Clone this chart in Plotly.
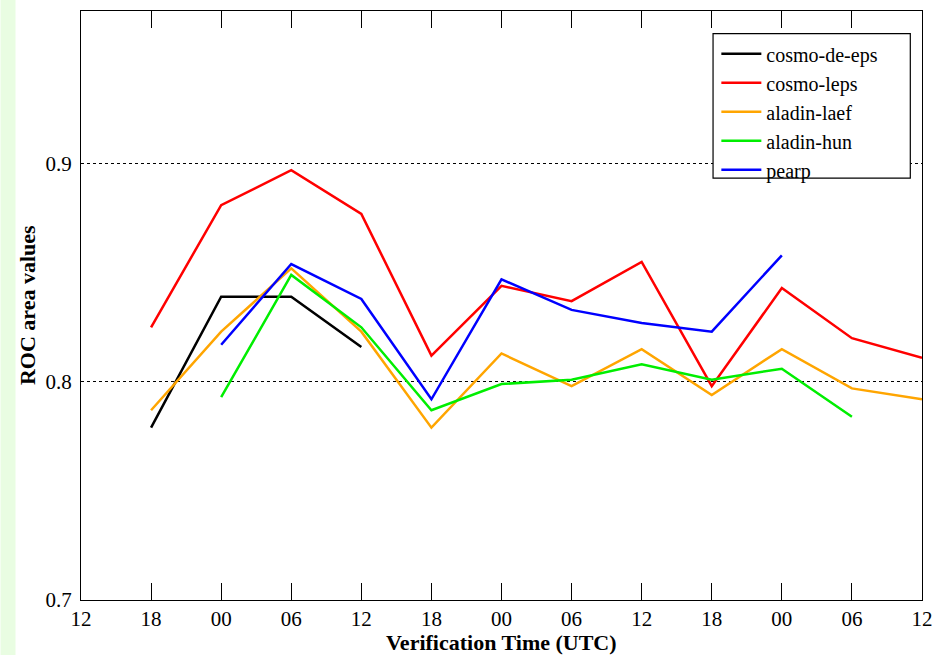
import plotly.graph_objects as go

x_ticklabels = ["12", "18", "00", "06", "12", "18", "00", "06", "12", "18", "00", "06", "12"]
x_positions = list(range(13))

series_names = ["cosmo-de-eps", "cosmo-leps", "aladin-laef", "aladin-hun", "pearp"]
series_colors = ["#000000", "#ff0000", "#ffa500", "#00ee00", "#0000ff"]

cosmo_de_eps_x = [1, 2, 3, 4]
cosmo_de_eps_y = [0.779, 0.839, 0.839, 0.816]

cosmo_leps_x = [1, 2, 3, 4, 5, 6, 7, 8, 9, 10, 11, 12]
cosmo_leps_y = [0.825, 0.881, 0.897, 0.877, 0.812, 0.844, 0.837, 0.855, 0.798, 0.843, 0.820, 0.811]

aladin_laef_x = [1, 2, 3, 4, 5, 6, 7, 8, 9, 10, 11, 12]
aladin_laef_y = [0.787, 0.823, 0.852, 0.823, 0.779, 0.813, 0.798, 0.815, 0.794, 0.815, 0.797, 0.792]

aladin_hun_x = [2, 3, 4, 5, 6, 7, 8, 9, 10, 11]
aladin_hun_y = [0.793, 0.849, 0.825, 0.787, 0.799, 0.801, 0.808, 0.801, 0.806, 0.784]

pearp_x = [2, 3, 4, 5, 6, 7, 8, 9, 10]
pearp_y = [0.817, 0.854, 0.838, 0.792, 0.847, 0.833, 0.827, 0.823, 0.858]

y_tickvals = [0.7, 0.8, 0.9]
y_ticktext = ["0.7", "0.8", "0.9"]

series = [
    (cosmo_de_eps_x, cosmo_de_eps_y),
    (cosmo_leps_x, cosmo_leps_y),
    (aladin_laef_x, aladin_laef_y),
    (aladin_hun_x, aladin_hun_y),
    (pearp_x, pearp_y),
]

SERIF = "Liberation Serif, Times New Roman, serif"

L, R, T, B = 80.5, 15.3, 10.7, 54.5
PW = 937 - L - R
PH = 655 - T - B


def px(xp):
    return (xp - L) / PW


def py(yp):
    return (655 - B - yp) / PH


fig = go.Figure()
for name, color, (xs, ys) in zip(series_names, series_colors, series):
    fig.add_trace(go.Scatter(x=xs, y=ys, mode="lines", name=name,
                             line=dict(color=color, width=2.5)))

fig.update_layout(
    width=937, height=655,
    margin=dict(l=L, r=R, t=T, b=B, autoexpand=False),
    paper_bgcolor="white", plot_bgcolor="white",
    font=dict(family=SERIF, color="black"),
    showlegend=True,
    legend=dict(x=px(716), y=py(34), xanchor="left", yanchor="top",
                bgcolor="rgba(0,0,0,0)", borderwidth=0,
                itemwidth=40,
                font=dict(family=SERIF, size=20, color="black")),
    xaxis=dict(range=[0, 12], tickmode="array", tickvals=x_positions, ticktext=x_ticklabels,
               ticks="inside", ticklen=17, tickwidth=1.2, tickcolor="black",
               showline=True, linecolor="black", linewidth=1.3, mirror="ticks",
               showgrid=False, zeroline=False, automargin=False,
               tickfont=dict(family=SERIF, size=21, color="black")),
    yaxis=dict(range=[0.7, 0.97], tickmode="array", tickvals=y_tickvals, ticktext=y_ticktext,
               ticks="", showline=True, linecolor="black", linewidth=1.3, mirror=True,
               showgrid=True, gridcolor="black", gridwidth=1, griddash="dot",
               zeroline=False, ticklabelstandoff=4, automargin=False,
               tickfont=dict(family=SERIF, size=21, color="black")),
    shapes=[
        dict(type="rect", xref="paper", yref="paper",
             x0=px(0), x1=px(15), y0=-0.2, y1=1.1,
             fillcolor="#e9fde2", line=dict(width=0), layer="below"),
        dict(type="rect", xref="paper", yref="paper",
             x0=px(712.7), x1=px(910), y0=py(178), y1=py(33.3),
             fillcolor="white", line=dict(color="black", width=1.2), layer="above"),
    ],
    annotations=[
        dict(text="<b>Verification Time (UTC)</b>", xref="paper", yref="paper",
             x=0.5, y=-0.072, xanchor="center", yanchor="middle", showarrow=False,
             font=dict(family=SERIF, size=22, color="black")),
        dict(text="<b>ROC area values</b>", xref="paper", yref="paper",
             x=px(27), y=0.5, xanchor="center", yanchor="middle", showarrow=False,
             textangle=-90, font=dict(family=SERIF, size=22, color="black")),
    ],
)

fig.write_html("out.html", config={"displayModeBar": False},
               post_script="document.body.style.margin='0';document.body.style.padding='0';")
